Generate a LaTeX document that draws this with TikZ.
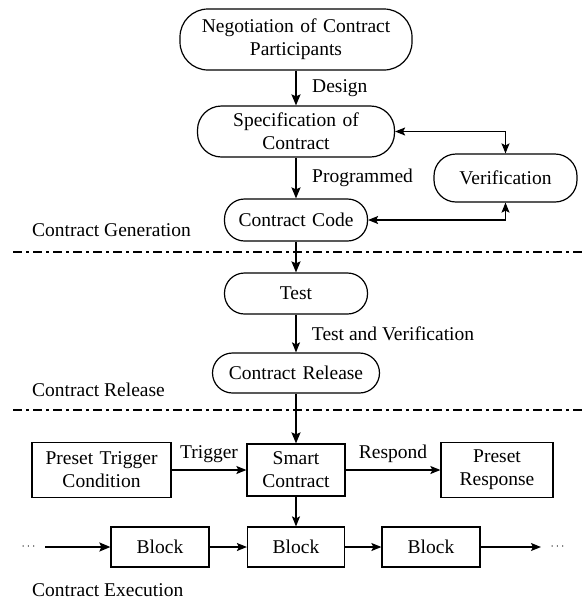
\documentclass[tikz,border=0pt]{standalone}
\usepackage{fontspec}
\setmainfont{Liberation Serif}
\usetikzlibrary{shapes,arrows,arrows.meta}
\tikzstyle{term} = [rectangle, draw, text centered, inner sep=0pt,
line width=1.2pt, rounded corners=20pt]
\tikzstyle{block} = [rectangle, draw, text centered, inner sep=0pt,
line width=1.2pt]
\tikzstyle{line} = [draw, line width=1.2pt, -{Stealth[length=10pt, width=8pt, inset=2pt]}]
\tikzstyle{mainline} = [draw, line width=1.8pt, -{Stealth[length=11pt, width=9pt, inset=2pt]}]
\tikzstyle{twoway} = [draw, line width=1.2pt,
{Stealth[length=10pt, width=8pt, inset=2pt]}-{Stealth[length=10pt, width=8pt, inset=2pt]}]
\tikzstyle{sep} = [draw, line width=1.2pt, dash pattern=on 9pt off 4pt on 3pt off 4pt]
\tikzstyle{stage} = [anchor=west, inner sep=0pt]
\tikzstyle{dots} = [font=\fontsize{12}{14}\selectfont]

\begin{document}
\begin{tikzpicture}[x=1pt, y=1pt, auto,
 font=\fontsize{19.5}{23}\selectfont]
    \useasboundingbox (0,0) rectangle (582,-606);
    % Place nodes
    \node [term, text width=232pt, minimum height=61pt, rounded corners=28pt]
    (neg) at (296,-39.5) {Negotiation of Contract\\Participants};
    \node [term, node distance=92pt, below of=neg, text width=197pt,
    minimum height=51pt, rounded corners=24pt] (spec) {Specification of\\Contract};
    \node [term, node distance=88.5pt, below of=spec, text width=143pt,
    minimum height=42pt] (code) {Contract Code};
    \node [term, node distance=209.5pt, right of=code, yshift=42pt,
    text width=143pt, minimum height=48pt, rounded corners=22pt] (verif)
    {Verification};
    \node [term, node distance=73.5pt, below of=code, text width=143pt,
    minimum height=41pt] (test) {Test};
    \node [term, node distance=79.5pt, below of=test, text width=167pt,
    minimum height=40pt] (release) {Contract Release};
    \node [block, node distance=97pt, below of=release, text width=98pt,
    minimum height=52pt] (smart) {Smart\\Contract};
    \node [block, node distance=194.5pt, left of=smart, text width=139pt,
    minimum height=55pt] (trig) {Preset Trigger\\Condition};
    \node [block, node distance=201pt, right of=smart, text width=112pt,
    minimum height=55pt] (resp) {Preset\\Response};
    \node [block, node distance=77pt, below of=smart, text width=97pt,
    minimum height=40pt] (blockb) {Block};
    \node [block, node distance=136pt, left of=blockb, text width=98pt,
    minimum height=40pt] (blocka) {Block};
    \node [block, node distance=135pt, right of=blockb, text width=98pt,
    minimum height=40pt] (blockc) {Block};
    \node [dots, node distance=131.5pt, left of=blocka] (dotsl) {$\cdots$};
    \node [dots, node distance=126.5pt, right of=blockc] (dotsr) {$\cdots$};

    % Stage names and separators
    \node [stage] (gen) at (32,-230) {Contract Generation};
    \node [stage] (rel) at (32,-390) {Contract Release};
    \node [stage] (exe) at (32,-590) {Contract Execution};
    \draw [sep] (13,-252) -- (582,-252);
    \draw [sep] (13,-410) -- (582,-410);

    % Draw edges
    \path [mainline] (neg) -- node [xshift=12pt] {Design} (spec);
    \path [mainline] (spec) -- node [xshift=12pt] {Programmed} (code);
    \path [twoway] (spec) -| (verif);
    \path [twoway] (code) -| (verif);
    \path [mainline] (code) -- (test);
    \path [line] (test) -- node [xshift=12pt] {Test and Verification} (release);
    \path [mainline] (release) -- (smart);
    \path [line] (trig) -- node [yshift=3pt] {Trigger} (smart);
    \path [line] (smart) -- node [yshift=3pt] {Respond} (resp);
    \path [line] (smart) -- (blockb);
    \path [mainline, shorten <=6pt] (dotsl) -- (blocka);
    \path [line] (blocka) -- (blockb);
    \path [line] (blockb) -- (blockc);
    \path [line, shorten >=6pt] (blockc) -- (dotsr);
\end{tikzpicture}
\end{document}
